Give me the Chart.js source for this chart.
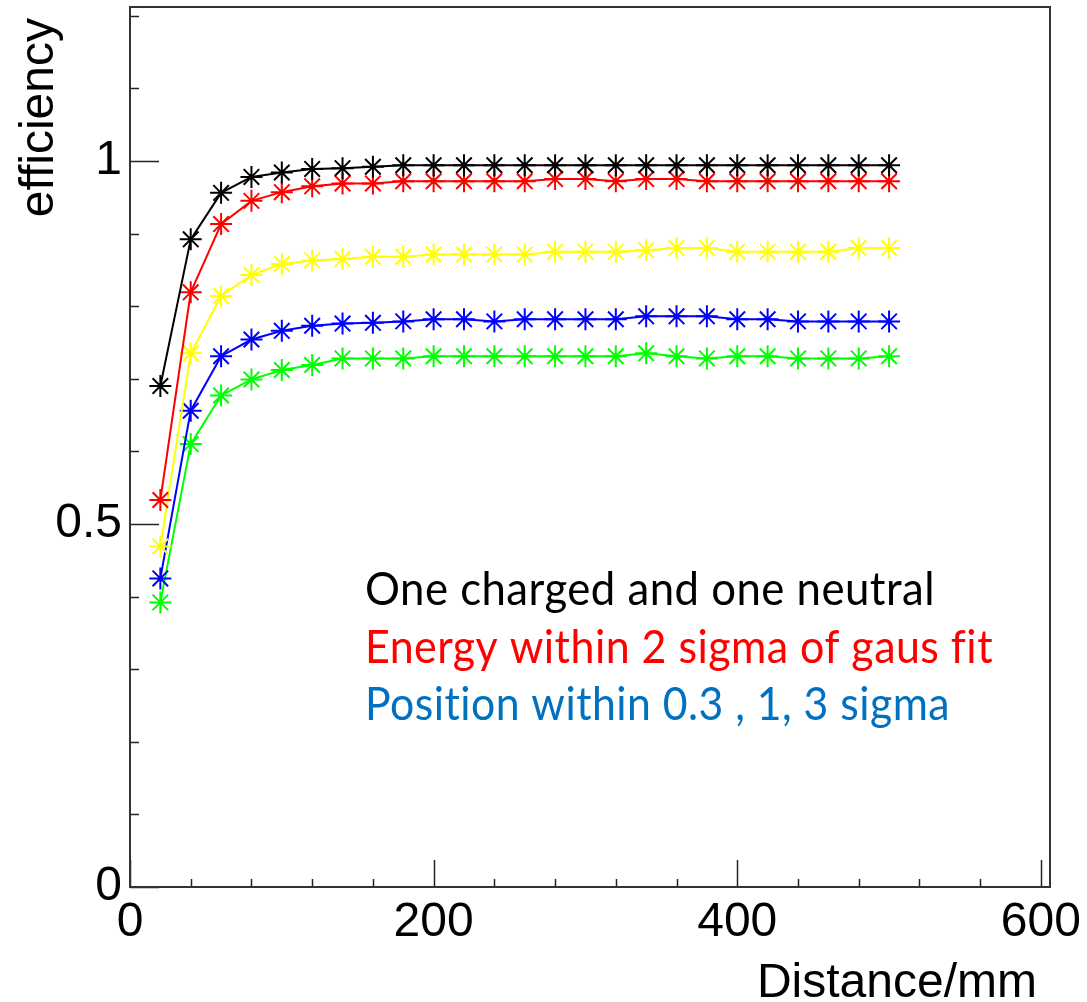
<!DOCTYPE html>
<html>
<head>
<meta charset="utf-8">
<script src="https://cdn.jsdelivr.net/npm/chart.js@4/dist/chart.umd.min.js"></script>
<style>
  html, body { margin: 0; padding: 0; background: #fff; }
  #wrap { width: 1087px; height: 1002px; }
</style>
</head>
<body>
<div id="wrap"><canvas id="effChart" width="1087" height="1002"></canvas></div>
<script>
var distance = [20, 40, 60, 80, 100, 120, 140, 160, 180, 200, 220, 240, 260, 280, 300, 320, 340, 360, 380, 400, 420, 440, 460, 480, 500]

var eff_charged_neutral = [0.690, 0.892, 0.956, 0.978, 0.984, 0.989, 0.990, 0.992, 0.994, 0.994, 0.994, 0.994, 0.994, 0.994, 0.994, 0.994, 0.994, 0.994, 0.994, 0.994, 0.994, 0.994, 0.994, 0.994, 0.994]
var eff_energy = [0.533, 0.819, 0.913, 0.945, 0.957, 0.965, 0.969, 0.969, 0.972, 0.972, 0.972, 0.972, 0.972, 0.975, 0.975, 0.972, 0.975, 0.975, 0.972, 0.972, 0.972, 0.972, 0.972, 0.972, 0.972]
var eff_pos_3sigma = [0.469, 0.735, 0.814, 0.843, 0.858, 0.863, 0.865, 0.868, 0.868, 0.871, 0.871, 0.871, 0.871, 0.875, 0.875, 0.875, 0.877, 0.880, 0.880, 0.875, 0.875, 0.875, 0.875, 0.880, 0.880]
var eff_pos_1sigma = [0.425, 0.656, 0.731, 0.754, 0.766, 0.773, 0.776, 0.777, 0.779, 0.782, 0.782, 0.779, 0.782, 0.782, 0.782, 0.782, 0.786, 0.786, 0.786, 0.782, 0.782, 0.779, 0.779, 0.779, 0.779]
var eff_pos_03sigma = [0.392, 0.610, 0.677, 0.699, 0.712, 0.719, 0.728, 0.728, 0.728, 0.731, 0.731, 0.731, 0.731, 0.731, 0.731, 0.731, 0.735, 0.731, 0.728, 0.731, 0.731, 0.728, 0.728, 0.728, 0.731]

var x_ticks = [0, 200, 400, 600]
var y_ticks = [0, 0.5, 1]
var x_minor_step = 40
var y_minor_step = 0.1
var x_range = [0, 606]
var y_range = [0, 1.212]

var x_title = "Distance/mm"
var y_title = "efficiency"
var notes = ["One charged and one neutral", "Energy within 2 sigma of gaus fit", "Position within 0.3 , 1, 3 sigma"]
var note_colors = ["#000000", "#ff0000", "#0070c0"]

var axisFont = "Liberation Sans, Arial, Helvetica, sans-serif"

function points(ys){
    var out = []
    for (var i = 0; i < distance.length; i++){
        out.push({x: distance[i], y: ys[i]})
    }
    return out
}

function series(ys, color){
    return {
        data: points(ys),
        borderColor: color,
        backgroundColor: color,
        borderWidth: 2,
        pointStyle: 'star',
        pointRadius: 11,
        pointBorderWidth: 2,
        pointBorderColor: color,
        pointHoverRadius: 11,
        tension: 0,
        fill: false
    }
}

// labels may stick out of the frame, so no extra room around the plot
function noPadding(){
    return {left: 0, top: 0, right: 0, bottom: 0}
}

// frame, inward ticks, axis titles and the text box
var rootFrame = {
    id: 'rootFrame',
    afterDraw: function(chart){
        var ctx = chart.ctx
        var a = chart.chartArea
        var xs = chart.scales.x
        var ys = chart.scales.y
        ctx.save()

        ctx.strokeStyle = "#222"
        ctx.lineWidth = 1.5
        // x ticks
        for (var v = x_range[0]; v <= x_range[1] + 0.001; v += x_minor_step){
            var major = x_ticks.indexOf(Math.round(v)) >= 0
            var px = Math.round(xs.getPixelForValue(v)) + 0.5
            ctx.beginPath()
            ctx.moveTo(px, a.bottom)
            ctx.lineTo(px, a.bottom - (major ? 27 : 8))
            ctx.stroke()
        }
        // y ticks
        for (var k = 0; k * y_minor_step <= y_range[1] + 0.0001; k++){
            var yv = Math.round(k * y_minor_step * 10) / 10
            var ymaj = y_ticks.indexOf(yv) >= 0
            var py = Math.round(ys.getPixelForValue(yv)) + 0.5
            ctx.beginPath()
            ctx.moveTo(a.left, py)
            ctx.lineTo(a.left + (ymaj ? 29 : 9), py)
            ctx.stroke()
        }

        ctx.strokeStyle = "#333"
        ctx.lineWidth = 2
        ctx.strokeRect(a.left, a.top, a.right - a.left, a.bottom - a.top)

        // axis titles
        ctx.fillStyle = "#000"
        ctx.font = "48px " + axisFont
        ctx.textAlign = "right"
        ctx.textBaseline = "alphabetic"
        ctx.fillText(x_title, 1037, 997)

        ctx.save()
        ctx.translate(53, 18)
        ctx.rotate(-Math.PI / 2)
        ctx.fillText(y_title, 0, 0)
        ctx.restore()

        // text box
        var widths = [570, 628, 585]
        var baselines = [605, 663, 720]
        ctx.textAlign = "left"
        ctx.font = "46px Lato, 'Open Sans', sans-serif"
        ctx.letterSpacing = "0.5px"
        for (var i = 0; i < notes.length; i++){
            var w = ctx.measureText(notes[i]).width
            ctx.save()
            ctx.translate(365, baselines[i])
            ctx.scale(widths[i] / w, 1)
            ctx.fillStyle = note_colors[i]
            ctx.fillText(notes[i], 0, 0)
            ctx.restore()
        }
        ctx.restore()
    }
}

var ctx = document.getElementById('effChart').getContext('2d')
var effChart = new Chart(ctx, {
    type: 'line',
    data: {
        datasets: [
            series(eff_charged_neutral, "#000000"),
            series(eff_energy, "#ff0000"),
            series(eff_pos_3sigma, "#ffff00"),
            series(eff_pos_1sigma, "#0000ff"),
            series(eff_pos_03sigma, "#00ff00")
        ]
    },
    options: {
        responsive: false,
        maintainAspectRatio: false,
        animation: false,
        layout: { autoPadding: false, padding: { left: 0, top: 7, right: 37, bottom: 0 } },
        plugins: { legend: { display: false }, title: { display: false }, tooltip: { enabled: false } },
        scales: {
            x: {
                type: 'linear',
                min: x_range[0],
                max: x_range[1],
                grid: { display: false, drawTicks: false },
                border: { display: false },
                afterBuildTicks: function(scale){
                    scale.ticks = x_ticks.map(function(v){ return {value: v} })
                },
                afterFit: function(scale){
                    scale.height = 115
                    scale.paddingLeft = 0
                    scale.paddingRight = 0
                    scale.getPadding = noPadding
                },
                ticks: {
                    color: "#000",
                    font: { family: axisFont, size: 48 },
                    padding: 7,
                    maxRotation: 0,
                    autoSkip: false
                }
            },
            y: {
                type: 'linear',
                min: y_range[0],
                max: y_range[1],
                grid: { display: false, drawTicks: false },
                border: { display: false },
                afterBuildTicks: function(scale){
                    scale.ticks = y_ticks.map(function(v){ return {value: v} })
                },
                afterFit: function(scale){
                    scale.width = 130
                    scale.paddingTop = 0
                    scale.paddingBottom = 0
                    scale.getPadding = noPadding
                },
                ticks: {
                    color: "#000",
                    font: { family: axisFont, size: 48 },
                    padding: 8,
                    callback: function(v){ return String(v) }
                }
            }
        }
    },
    plugins: [rootFrame]
})
</script>
</body>
</html>
